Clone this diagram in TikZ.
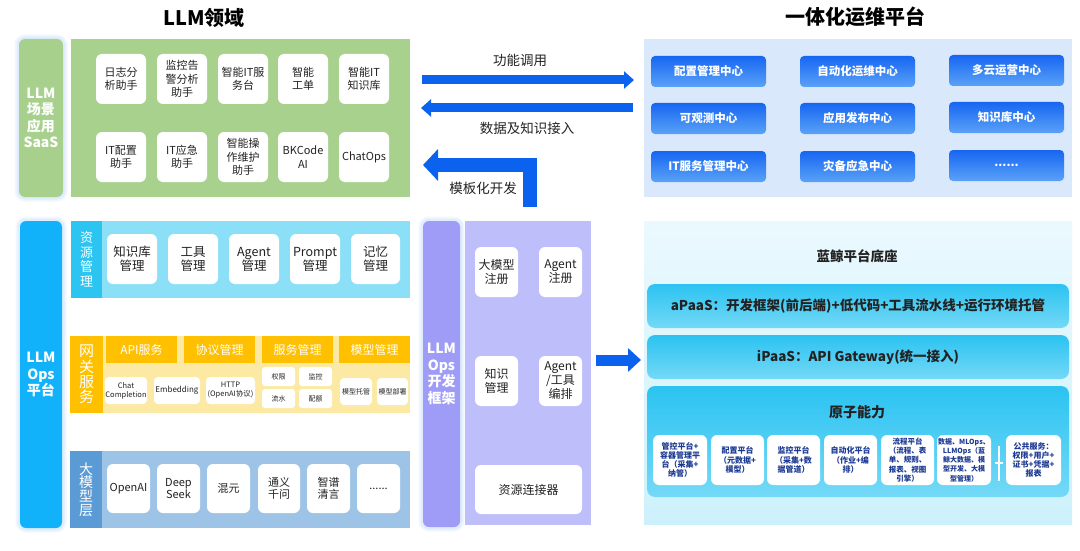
\documentclass[tikz,border=0pt]{standalone}
\usepackage{fontspec}
\setmainfont{Noto Sans CJK SC}
\usetikzlibrary{arrows.meta,calc}
\definecolor{gLab}{HTML}{A8D08D}
\definecolor{gPan}{HTML}{A9D18E}
\definecolor{opsLab}{HTML}{12B2FB}
\definecolor{resBg}{HTML}{8BE0F8}
\definecolor{resStrip}{HTML}{2CC4F0}
\definecolor{gwBg}{HTML}{FCE9A3}
\definecolor{gwHead}{HTML}{FFC000}
\definecolor{mdBg}{HTML}{9DC3E6}
\definecolor{mdStrip}{HTML}{5B9BD5}
\definecolor{puLab}{HTML}{9E9CF6}
\definecolor{puPan}{HTML}{BDBEFA}
\definecolor{arrBlue}{HTML}{0A62EE}
\definecolor{rtPan}{HTML}{D9E8FB}
\definecolor{rtBoxT}{HTML}{1766F2}
\definecolor{rtBoxB}{HTML}{5AA2F7}
\definecolor{rbPanT}{HTML}{EAF9FE}
\definecolor{rbPanB}{HTML}{CDF1FB}
\definecolor{barT}{HTML}{2BC3F1}
\definecolor{barB}{HTML}{74D9F7}
\definecolor{atomTxt}{HTML}{1C3A93}
\definecolor{txt}{HTML}{222222}
\definecolor{glowC}{HTML}{7FB8FF}
\newcommand\BX[7]{\node[#1, minimum width={#5-#3}, minimum height={#6-#4}] (#2) at ({(#3+#5)/2},{(#4+#6)/2}) {#7};}
\begin{document}
\begin{tikzpicture}[x=1pt,y=-1pt,
  every node/.style={inner sep=0pt, outer sep=0pt, align=center},
  panel/.style={draw=none},
  glow/.style={preaction={draw=glowC, line width=9pt, opacity=0.10},
               preaction={draw=glowC, line width=5pt, opacity=0.15}},
  biglabel/.style={rounded corners=6pt, text=white, font=\bfseries\fontsize{14}{16.5}\selectfont},
  striptxt/.style={text=white, font=\fontsize{13}{14.5}\selectfont},
  wbox/.style={fill=white, rounded corners=6pt, text=txt, font=\fontsize{11}{13.5}\selectfont},
  rbox/.style={wbox, font=\fontsize{12.5}{14}\selectfont},
  mbox/.style={wbox, font=\fontsize{11}{12.5}\selectfont},
  pbox/.style={wbox, font=\fontsize{12}{14}\selectfont},
  ghead/.style={fill=gwHead, text=white, font=\fontsize{12}{14}\selectfont},
  gbox/.style={fill=white, rounded corners=4pt, text=txt, font=\fontsize{7.5}{9}\selectfont},
  gsbox/.style={fill=white, rounded corners=3pt, text=txt, font=\fontsize{7}{8}\selectfont},
  rtbox/.style={top color=rtBoxT, bottom color=rtBoxB, rounded corners=4pt, text=white, font=\bfseries\fontsize{11.5}{14}\selectfont},
  bar/.style={top color=barT, bottom color=barB, rounded corners=8pt, text=txt, font=\bfseries\fontsize{13.5}{16}\selectfont},
  abox/.style={fill=white, rounded corners=6pt, text=atomTxt, font=\bfseries\fontsize{8}{9.2}\selectfont},
  captxt/.style={text=txt, font=\fontsize{13.5}{16}\selectfont},
  ttl/.style={text=black, font=\bfseries\fontsize{20}{24}\selectfont},
  barrow/.style={draw=arrBlue, line width=9pt, -{Triangle[length=10pt,width=17pt]}}
]
\useasboundingbox (0,0) rectangle (1080,551);
\fill[white] (0,0) rectangle (1080,551);

% titles
\node[ttl] (t1) at (204,18) {LLM领域};
\node[ttl] (t2) at (855,17) {一体化运维平台};

% ===== LLM SaaS =====
\BX{panel,fill=gPan}{gp}{71}{39}{410}{197}{}
\BX{biglabel,fill=gLab,glow}{gl}{19}{39}{63}{197}{LLM\\场景\\应用\\SaaS}
\BX{wbox}{s1}{96}{54}{146}{104}{日志分\\析助手}
\BX{wbox}{s2}{157}{54}{207}{104}{监控告\\警分析\\助手}
\BX{wbox}{s3}{218}{54}{268}{104}{智能IT服\\务台}
\BX{wbox}{s4}{278}{54}{328}{104}{智能\\工单}
\BX{wbox}{s5}{339}{54}{389}{104}{智能IT\\知识库}
\BX{wbox}{s6}{96}{132}{146}{182}{IT配置\\助手}
\BX{wbox}{s7}{157}{132}{207}{182}{IT应急\\助手}
\BX{wbox}{s8}{218}{132}{268}{182}{智能操\\作维护\\助手}
\BX{wbox}{s9}{278}{132}{328}{182}{BKCode\\AI}
\BX{wbox}{s10}{339}{132}{389}{182}{ChatOps}

% ===== LLM Ops =====
\BX{biglabel,fill=opsLab,glow}{ol}{20}{221}{62}{528}{LLM\\Ops\\平台}

% resource management
\BX{panel,fill=resBg}{rb}{71}{221}{410}{298}{}
\BX{panel,fill=resStrip,striptxt}{rs}{71}{221}{102}{298}{资\\源\\管\\理}
\BX{rbox}{r1}{107}{234}{157}{284}{知识库\\管理}
\BX{rbox}{r2}{168}{234}{218}{284}{工具\\管理}
\BX{rbox}{r3}{229}{234}{279}{284}{Agent\\管理}
\BX{rbox}{r4}{290}{234}{340}{284}{Prompt\\管理}
\BX{rbox}{r5}{351}{234}{400}{284}{记忆\\管理}

% gateway
\BX{panel,fill=gwBg}{gb}{70}{336}{410}{413}{}
\BX{panel,fill=gwHead,striptxt,font=\fontsize{15}{15.3}\selectfont}{gs}{70}{336}{103}{413}{网\\关\\服\\务}
\BX{ghead}{h1}{106}{336}{177}{363}{API服务}
\BX{ghead}{h2}{184}{336}{255}{363}{协议管理}
\BX{ghead}{h3}{262}{336}{333}{363}{服务管理}
\BX{ghead}{h4}{339}{336}{410}{363}{模型管理}
\BX{gbox}{g1}{105}{377}{147}{404}{Chat\\Completion}
\BX{gbox,font=\fontsize{8}{9}\selectfont}{g2}{154}{377}{200}{404}{Embedding}
\BX{gbox}{g3}{206}{377}{255}{404}{HTTP\\(OpenAI协议)}
\BX{gsbox}{g4}{262}{367}{295}{386}{权限}
\BX{gsbox}{g5}{299}{367}{332}{386}{监控}
\BX{gsbox}{g6}{262}{389}{295}{408}{流水}
\BX{gsbox}{g7}{299}{389}{332}{408}{配额}
\BX{gbox,font=\fontsize{7}{8}\selectfont}{g8}{340}{378}{372}{405}{模型托管}
\BX{gbox,font=\fontsize{7}{8}\selectfont}{g9}{377}{378}{408}{405}{模型部署}

% model layer
\BX{panel,fill=mdBg}{mb}{70}{451}{410}{528}{}
\BX{panel,fill=mdStrip,striptxt,font=\fontsize{14}{13.7}\selectfont}{ms}{70}{451}{102}{528}{大\\模\\型\\层}
\BX{mbox}{m1}{107}{464}{150}{513}{OpenAI}
\BX{mbox}{m2}{157}{464}{200}{513}{Deep\\Seek}
\BX{mbox}{m3}{207}{464}{250}{513}{混元}
\BX{mbox}{m4}{258}{464}{300}{513}{通义\\千问}
\BX{mbox}{m5}{307}{464}{350}{513}{智谱\\清言}
\BX{mbox}{m6}{357}{464}{400}{513}{......}

% ===== LLM Ops dev framework =====
\BX{biglabel,fill=puLab,glow}{pl}{423}{221}{460}{527}{LLM\\Ops\\开发\\框架}
\BX{panel,fill=puPan}{pp}{465}{221}{591}{525}{}
\BX{pbox}{p1}{475}{247}{518}{297}{大模型\\注册}
\BX{pbox}{p2}{539}{247}{582}{297}{Agent\\注册}
\BX{pbox}{p3}{475}{356}{518}{406}{知识\\管理}
\BX{pbox}{p4}{539}{356}{582}{406}{Agent\\/工具\\编排}
\BX{pbox}{p5}{475}{465}{582}{514}{资源连接器}

% ===== right top platform =====
\BX{panel,fill=rtPan}{rtp}{644}{39}{1072}{197}{}
\BX{rtbox}{c1}{651}{56}{766}{87}{配置管理中心}
\BX{rtbox}{c2}{800}{56}{915}{87}{自动化运维中心}
\BX{rtbox}{c3}{949}{55}{1064}{86}{多云运营中心}
\BX{rtbox}{c4}{651}{103}{766}{134}{可观测中心}
\BX{rtbox}{c5}{800}{103}{915}{134}{应用发布中心}
\BX{rtbox}{c6}{949}{102}{1064}{133}{知识库中心}
\BX{rtbox}{c7}{651}{151}{766}{182}{IT服务管理中心}
\BX{rtbox}{c8}{800}{151}{915}{182}{灾备应急中心}
\BX{rtbox}{c9}{949}{150}{1064}{181}{......}

% ===== right bottom base =====
\BX{panel,top color=rbPanT,bottom color=rbPanB}{rbp}{644}{221}{1072}{524}{}
\node[text=txt, font=\bfseries\fontsize{13.5}{16}\selectfont] (bt) at (857,256) {蓝鲸平台底座};
\BX{bar}{ap}{647}{284}{1069}{328}{aPaaS：开发框架(前后端)+低代码+工具流水线+运行环境托管}
\BX{bar}{ip}{647}{335}{1069}{379}{iPaaS：API Gateway(统一接入)}
\BX{bar}{at}{647}{386}{1069}{497}{}
\node[text=txt, font=\bfseries\fontsize{14}{16}\selectfont] (att) at (857,412) {原子能力};
\BX{abox}{x1}{653}{435}{707}{485}{管控平台+\\容器管理平\\台（采集+\\纳管）}
\BX{abox}{x2}{711}{435}{764}{485}{配置平台\\（元数据+\\模型）}
\BX{abox}{x3}{767}{435}{820}{485}{监控平台\\（采集+数\\据管道）}
\BX{abox}{x4}{824}{435}{877}{485}{自动化平台\\（作业+编\\排）}
\BX{abox,font=\bfseries\fontsize{7.5}{9.2}\selectfont}{x5}{881}{435}{934}{485}{流程平台\\（流程、表\\单、规则、\\报表、视图\\引擎）}
\BX{abox,font=\bfseries\fontsize{7}{9.2}\selectfont}{x6}{937}{435}{991}{485}{数据、MLOps、\\LLMOps（蓝\\鲸大数据、模\\型开发、大模\\型管理）}
\BX{abox}{x7}{1006}{435}{1061}{485}{公共服务：\\权限+用户+\\证书+凭据+\\报表}
\coordinate (sepT) at (999,446);
\coordinate (sepB) at (999,481);
\coordinate (sepL) at (995,463);
\coordinate (sepR) at (1003,463);
\draw[white, line width=2pt] (sepT) -- (sepB);
\draw[white, line width=1.5pt] (sepL) -- (sepR);

% ===== arrows =====
\coordinate (a1s) at (422,80);
\coordinate (a1e) at (634,80);
\draw[barrow] (a1s) -- (a1e);
\node[captxt] (l1) at (520,60) {功能调用};
\coordinate (a2s) at (633,108);
\coordinate (a2e) at (421,108);
\draw[barrow] (a2s) -- (a2e);
\node[captxt] (l2) at (527,128) {数据及知识接入};
\coordinate (a3s) at (530,207);
\coordinate (a3c) at (530,165);
\coordinate (a3e) at (423,165);
\draw[barrow, line width=14pt, line join=miter, -{Triangle[length=15pt,width=31pt]}] (a3s) -- (a3c) -- (a3e);
\node[captxt] (l3) at (483,188) {模板化开发};
\coordinate (a4s) at (596,360);
\coordinate (a4e) at (641,360);
\draw[barrow, line width=11pt, -{Triangle[length=13pt,width=23pt]}] (a4s) -- (a4e);
\end{tikzpicture}
\end{document}
